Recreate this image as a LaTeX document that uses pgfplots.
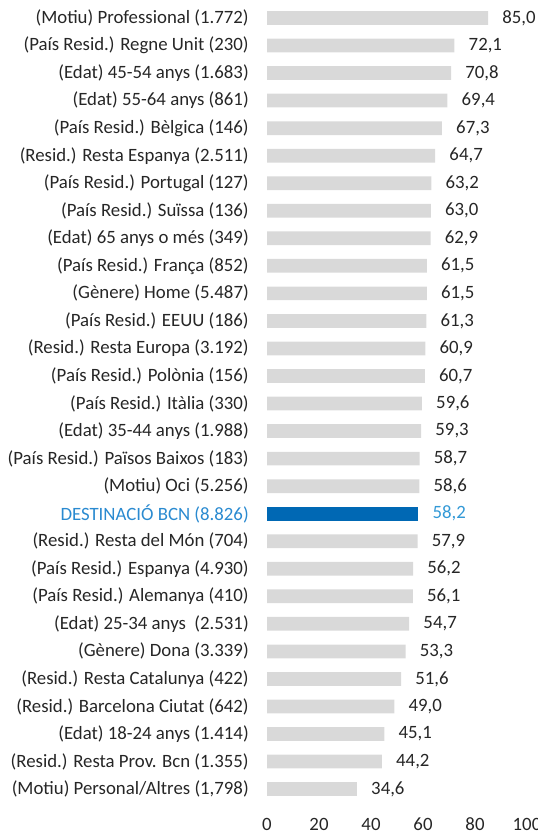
\documentclass[border=0pt]{standalone}
\usepackage{pgfplots}
\pgfplotsset{compat=1.18}
\usepackage{fontspec}
\setmainfont{Carlito}
\definecolor{bargray}{HTML}{D9D9D9}
\definecolor{barblue}{HTML}{0068B4}
\definecolor{lblblue}{HTML}{2A8AD0}
\definecolor{valblue}{HTML}{3399D6}
\definecolor{txtgray}{HTML}{262626}
\begin{document}
\begin{tikzpicture}
\begin{axis}[
  at={(200.25pt,24.1pt)}, anchor=south west,
  scale only axis, width=195pt, height=599pt,
  xmin=0, xmax=100, ymin=-0.5, ymax=28.5, y dir=reverse,
  xbar, bar width=10.3pt, bar shift=0pt,
  axis line style={draw=none}, major tick length=0pt, tick style={draw=none},
  xtick={0,20,40,60,80,100},
  ytick={0,...,28},
  yticklabels={
    (Motiu) Professional (1.772),
    (País Resid.) Regne Unit (230),
    (Edat) 45-54 anys (1.683),
    (Edat) 55-64 anys (861),
    (País Resid.) Bèlgica (146),
    (Resid.) Resta Espanya (2.511),
    (País Resid.) Portugal (127),
    (País Resid.) Suïssa (136),
    (Edat) 65 anys o més (349),
    (País Resid.) França (852),
    (Gènere) Home (5.487),
    (País Resid.) EEUU (186),
    (Resid.) Resta Europa (3.192),
    (País Resid.) Polònia (156),
    (País Resid.) Itàlia (330),
    (Edat) 35-44 anys (1.988),
    (País Resid.) Països Baixos (183),
    (Motiu) Oci (5.256),
    \textcolor{lblblue}{DESTINACIÓ BCN (8.826)},
    (Resid.) Resta del Món (704),
    (País Resid.) Espanya (4.930),
    (País Resid.) Alemanya (410),
    (Edat) 25-34 anys\ \ (2.531),
    (Gènere) Dona (3.339),
    (Resid.) Resta Catalunya (422),
    (Resid.) Barcelona Ciutat (642),
    (Edat) 18-24 anys (1.414),
    (Resid.) Resta Prov. Bcn (1.355),
    {(Motiu) Personal/Altres (1,798)}
  },
  every tick label/.append style={font=\fontsize{14.1}{16}\selectfont, text=txtgray},
  yticklabel style={anchor=east, inner sep=0pt, xshift=-13.5pt},
  xticklabel style={anchor=north, inner sep=0pt, yshift=-11pt},
  /pgf/number format/assume math mode=true,
  clip=false,
  nodes near coords={\pgfmathprintnumber[fixed,fixed zerofill,precision=1,use comma,assume math mode=true]{\pgfplotspointmeta}},
  every node near coord/.append style={anchor=west, inner sep=0pt, xshift=10.5pt, font=\fontsize{14.1}{16}\selectfont, text=txtgray},
]
\addplot[fill=bargray, draw=none] coordinates {
(85.0,0) (72.1,1) (70.8,2) (69.4,3) (67.3,4) (64.7,5) (63.2,6) (63.0,7) (62.9,8) (61.5,9)
(61.5,10) (61.3,11) (60.9,12) (60.7,13) (59.6,14) (59.3,15) (58.7,16) (58.6,17)
(57.9,19) (56.2,20) (56.1,21) (54.7,22) (53.3,23) (51.6,24) (49.0,25) (45.1,26) (44.2,27) (34.6,28)
};
\addplot[fill=barblue, draw=none, every node near coord/.append style={text=valblue}] coordinates {
(58.2,18)
};
\end{axis}
\pgfresetboundingbox
\path[use as bounding box] (0,0) rectangle (402.75pt,626.25pt);
\end{tikzpicture}
\end{document}
